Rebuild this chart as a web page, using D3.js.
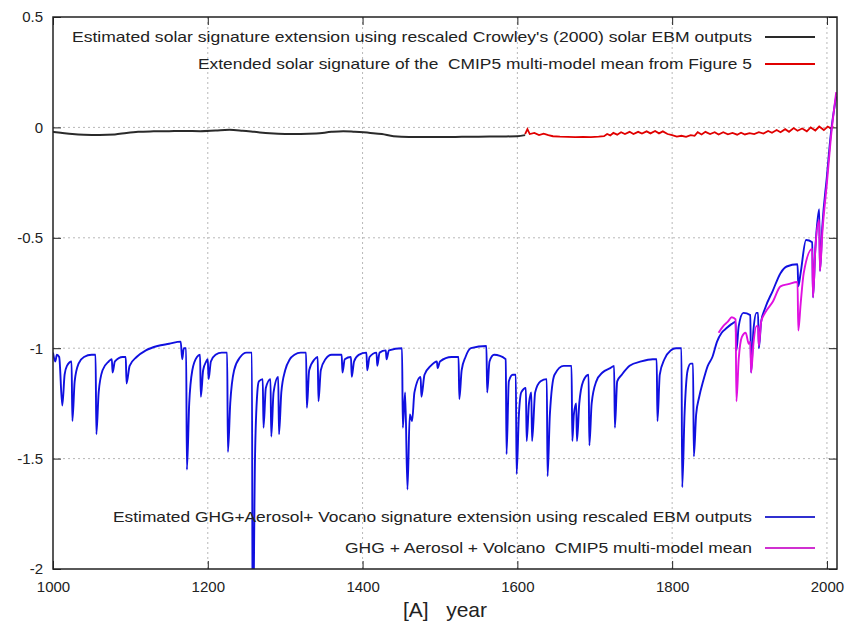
<!DOCTYPE html>
<html lang="en">
<head>
<meta charset="UTF-8">
<title>Solar and GHG+Aerosol+Volcano signatures</title>
<style>
  body { margin: 0; background: #fff; }
  text { font-family: "Liberation Sans", Arial, sans-serif; fill: #222; }
</style>
</head>
<body>
<script src="https://cdn.jsdelivr.net/npm/d3@7/dist/d3.min.js"></script>
<script>
// ---- data ----
var xTicks = [1000, 1200, 1400, 1600, 1800, 2000];
var yTicks = [0.5, 0, -0.5, -1, -1.5, -2];

var legendTop = [
  "Estimated solar signature extension using rescaled Crowley's (2000) solar EBM outputs",
  "Extended solar signature of the  CMIP5 multi-model mean from Figure 5"
];
var legendBottom = [
  "Estimated GHG+Aerosol+ Vocano signature extension using rescaled EBM outputs",
  "GHG + Aerosol + Volcano  CMIP5 multi-model mean"
];

// solar signature, Crowley EBM (black)
var solarEbm = [
  [1000,-0.020],[1010,-0.024],[1025,-0.030],[1040,-0.033],[1060,-0.034],[1080,-0.032],
  [1095,-0.025],[1110,-0.020],[1130,-0.018],[1150,-0.017],[1170,-0.016],[1190,-0.017],
  [1210,-0.014],[1228,-0.011],[1245,-0.015],[1260,-0.020],[1280,-0.027],[1300,-0.030],
  [1320,-0.030],[1340,-0.028],[1360,-0.020],[1375,-0.017],[1390,-0.020],[1410,-0.025],
  [1425,-0.030],[1440,-0.040],[1460,-0.043],[1490,-0.043],[1520,-0.043],[1550,-0.042],
  [1580,-0.041],[1600,-0.040],[1610,-0.035]
];

// solar signature, CMIP5 mean (red)
var solarCmip5 = [
  [1610,-0.030],[1613,-0.008],[1616,-0.030],[1622,-0.025],[1628,-0.035],[1634,-0.028],
  [1640,-0.035],[1646,-0.040],[1655,-0.042],[1665,-0.043],[1675,-0.044],[1685,-0.043],
  [1695,-0.044],[1705,-0.042],[1712,-0.040],[1716,-0.030],[1720,-0.036],[1724,-0.025],
  [1729,-0.033],[1734,-0.022],[1739,-0.030],[1745,-0.020],[1750,-0.030],[1756,-0.020],
  [1761,-0.028],[1767,-0.018],[1772,-0.027],[1778,-0.016],[1783,-0.027],[1788,-0.018],
  [1794,-0.030],[1800,-0.035],[1806,-0.042],[1812,-0.038],[1818,-0.043],[1824,-0.035],
  [1829,-0.038],[1833,-0.022],[1838,-0.032],[1843,-0.020],[1849,-0.030],[1855,-0.022],
  [1860,-0.032],[1866,-0.022],[1872,-0.031],[1878,-0.025],[1884,-0.033],[1889,-0.024],
  [1894,-0.032],[1900,-0.026],[1906,-0.030],[1912,-0.022],[1918,-0.028],[1924,-0.016],
  [1929,-0.024],[1935,-0.012],[1940,-0.022],[1946,-0.008],[1951,-0.020],[1957,-0.003],
  [1962,-0.015],[1968,-0.005],[1974,-0.018],[1979,0.000],[1985,-0.014],[1990,0.004],
  [1996,-0.012],[2001,0.004],[2005,-0.004],[2008,0.006]
];

// GHG+Aerosol+Volcano, rescaled EBM (blue)
var forcedEbm = [
  [1000,-1.02],[1003,-1.06],[1005,-1.03],[1008,-1.04],[1012,-1.26],[1015,-1.12],[1018,-1.08],
  [1024,-1.06],[1025,-1.33],[1028,-1.15],[1033,-1.07],[1040,-1.04],[1050,-1.03],[1055,-1.03],
  [1056,-1.39],[1059,-1.20],[1064,-1.10],[1072,-1.06],[1076,-1.05],[1077,-1.11],[1080,-1.06],
  [1090,-1.04],[1094,-1.04],[1095,-1.16],[1099,-1.08],[1108,-1.04],[1120,-1.01],[1135,-0.99],
  [1150,-0.98],[1165,-0.97],[1167,-1.05],[1169,-1.00],[1172,-1.00],[1173,-1.55],[1176,-1.25],
  [1180,-1.10],[1186,-1.04],[1190,-1.03],[1191,-1.22],[1194,-1.10],[1198,-1.06],[1200,-1.05],
  [1201,-1.14],[1204,-1.06],[1210,-1.03],[1218,-1.02],[1225,-1.02],[1226,-1.47],[1229,-1.25],
  [1234,-1.10],[1242,-1.04],[1250,-1.02],[1257,-1.02],[1258,-2.40],[1261,-1.50],[1264,-1.20],
  [1266,-1.15],[1271,-1.14],[1272,-1.36],[1275,-1.18],[1281,-1.14],[1282,-1.40],[1285,-1.20],
  [1291,-1.13],[1292,-1.39],[1295,-1.20],[1300,-1.10],[1306,-1.05],[1312,-1.03],[1320,-1.02],
  [1327,-1.02],[1328,-1.27],[1331,-1.10],[1338,-1.05],[1342,-1.04],[1343,-1.24],[1346,-1.10],
  [1352,-1.05],[1360,-1.03],[1373,-1.03],[1374,-1.11],[1377,-1.05],[1385,-1.04],[1386,-1.13],
  [1389,-1.06],[1395,-1.03],[1405,-1.02],[1406,-1.10],[1409,-1.04],[1418,-1.02],[1419,-1.08],
  [1422,-1.02],[1430,-1.01],[1431,-1.05],[1434,-1.01],[1451,-1.00],[1452,-1.36],[1455,-1.20],
  [1458,-1.64],[1461,-1.30],[1464,-1.33],[1467,-1.20],[1475,-1.13],[1476,-1.22],[1480,-1.12],
  [1488,-1.08],[1496,-1.06],[1497,-1.09],[1500,-1.06],[1515,-1.04],[1524,-1.04],[1525,-1.23],
  [1528,-1.10],[1533,-1.04],[1540,-1.00],[1560,-0.99],[1561,-1.20],[1564,-1.06],[1570,-1.03],
  [1585,-1.05],[1586,-1.48],[1589,-1.15],[1594,-1.12],[1598,-1.12],[1599,-1.57],[1602,-1.30],
  [1605,-1.20],[1611,-1.18],[1612,-1.42],[1615,-1.25],[1618,-1.20],[1619,-1.42],[1623,-1.20],
  [1630,-1.15],[1638,-1.14],[1639,-1.58],[1642,-1.30],[1648,-1.12],[1660,-1.08],[1670,-1.08],
  [1671,-1.42],[1673,-1.30],[1676,-1.25],[1677,-1.42],[1680,-1.25],[1685,-1.15],[1692,-1.12],
  [1693,-1.44],[1696,-1.25],[1702,-1.15],[1710,-1.11],[1720,-1.09],[1725,-1.08],[1726,-1.36],
  [1729,-1.15],[1735,-1.12],[1745,-1.08],[1760,-1.06],[1775,-1.05],[1780,-1.05],[1781,-1.33],
  [1784,-1.12],[1790,-1.05],[1798,-1.01],[1805,-1.00],[1812,-1.00],[1813,-1.63],[1816,-1.30],
  [1820,-1.10],[1824,-1.07],[1827,-1.07],[1828,-1.49],[1831,-1.30],[1835,-1.22],[1840,-1.15],
  [1846,-1.08],[1852,-1.04],[1858,-0.97],[1864,-0.93],[1870,-0.91],[1877,-0.89],[1882,-0.88],
  [1883,-1.01],[1886,-0.90],[1892,-0.84],[1901,-0.85],[1902,-1.11],[1905,-0.92],[1909,-0.84],
  [1911,-0.84],[1912,-1.00],[1915,-0.88],[1920,-0.82],[1930,-0.74],[1940,-0.66],[1948,-0.63],
  [1962,-0.62],[1963,-0.72],[1966,-0.66],[1973,-0.51],[1981,-0.52],[1982,-0.77],[1985,-0.55],
  [1990,-0.37],[1991,-0.65],[1994,-0.45],[2000,-0.22],[2005,-0.03],[2012,0.14]
];

// GHG+Aerosol+Volcano, CMIP5 mean (magenta)
var forcedCmip5 = [
  [1860,-0.93],[1866,-0.90],[1872,-0.88],[1877,-0.86],[1882,-0.87],[1883,-1.24],[1886,-1.05],
  [1890,-0.95],[1895,-0.93],[1899,-0.98],[1901,-0.97],[1902,-1.11],[1905,-0.98],[1909,-0.90],
  [1911,-0.90],[1912,-0.99],[1915,-0.88],[1920,-0.84],[1930,-0.79],[1940,-0.72],[1950,-0.71],
  [1962,-0.70],[1963,-0.92],[1966,-0.80],[1970,-0.66],[1981,-0.55],[1982,-0.77],[1985,-0.55],
  [1990,-0.42],[1991,-0.65],[1994,-0.48],[2000,-0.25],[2005,-0.05],[2012,0.16]
];

// ---- chart ----
var width = 850, height = 635;
var margin = {top: 17, right: 13, bottom: 66, left: 53};
var plotW = width - margin.left - margin.right;
var plotH = height - margin.top - margin.bottom;

var svg = d3.select('body').append('svg')
  .attr('width', width)
  .attr('height', height);

var x = d3.scaleLinear().domain([1000, 2013]).range([0, plotW]);
var y = d3.scaleLinear().domain([-2, 0.5]).range([plotH, 0]);

var g = svg.append('g')
  .attr('transform', 'translate(' + margin.left + ',' + margin.top + ')');

svg.append('defs').append('clipPath').attr('id', 'plotclip')
  .append('rect').attr('width', plotW).attr('height', plotH);

// grid
g.append('g').selectAll('line.gx')
  .data(xTicks.slice(1))
  .enter().append('line')
  .attr('x1', function(d){ return x(d); })
  .attr('x2', function(d){ return x(d); })
  .attr('y1', 0).attr('y2', plotH)
  .attr('stroke', '#b8b8b8').attr('stroke-dasharray', '2,3');
g.append('g').selectAll('line.gy')
  .data(yTicks.slice(1, -1))
  .enter().append('line')
  .attr('y1', function(d){ return y(d); })
  .attr('y2', function(d){ return y(d); })
  .attr('x1', 0).attr('x2', plotW)
  .attr('stroke', '#b8b8b8').attr('stroke-dasharray', '2,3');

// axes (gnuplot style: ticks inward, mirrored)
var xAxis = d3.axisBottom(x).tickValues(xTicks).tickSize(-8).tickPadding(12).tickFormat(d3.format('d'));
var yAxis = d3.axisLeft(y).tickValues(yTicks).tickSize(-8).tickPadding(10).tickFormat(function(d){ return String(d); });

var gx = g.append('g').attr('transform', 'translate(0,' + plotH + ')').call(xAxis);
var gy = g.append('g').call(yAxis);
g.append('g').call(d3.axisTop(x).tickValues(xTicks).tickSize(-8).tickFormat(''));
g.append('g').attr('transform', 'translate(' + plotW + ',0)')
  .call(d3.axisRight(y).tickValues(yTicks).tickSize(-8).tickFormat(''));

g.selectAll('.domain').remove();
g.selectAll('.tick line').attr('stroke', '#222');
gx.selectAll('text').style('font-size', '15px').attr('fill', '#222');
gy.selectAll('text').style('font-size', '15px').attr('fill', '#222');

// curves
var line = d3.line()
  .x(function(d){ return x(d[0]); })
  .y(function(d){ return y(d[1]); });
var smooth = d3.line()
  .curve(d3.curveMonotoneX)
  .x(function(d){ return x(d[0]); })
  .y(function(d){ return y(d[1]); });

var curves = g.append('g').attr('clip-path', 'url(#plotclip)');
curves.append('path').datum(solarEbm).attr('d', smooth)
  .attr('fill', 'none').attr('stroke', '#2a2a2a').attr('stroke-width', 2);
curves.append('path').datum(solarCmip5).attr('d', line)
  .attr('fill', 'none').attr('stroke', '#e00000').attr('stroke-width', 1.8);
curves.append('path').datum(forcedEbm).attr('d', smooth)
  .attr('fill', 'none').attr('stroke', '#1010e0').attr('stroke-width', 1.9)
  .attr('stroke-linejoin', 'round');
curves.append('path').datum(forcedCmip5).attr('d', smooth)
  .attr('fill', 'none').attr('stroke', '#e010e0').attr('stroke-width', 1.9)
  .attr('stroke-linejoin', 'round');

// frame
g.append('rect').attr('width', plotW).attr('height', plotH)
  .attr('fill', 'none').attr('stroke', '#222').attr('stroke-width', 1.5);

// legends
var legendColors = ['#2a2a2a', '#e00000', '#3030d0', '#d030d0'];
var legendItems = [
  {t: legendTop[0], y: 37, w: 680, c: legendColors[0]},
  {t: legendTop[1], y: 64, w: 554, c: legendColors[1]},
  {t: legendBottom[0], y: 517, w: 639, c: legendColors[2]},
  {t: legendBottom[1], y: 548, w: 407, c: legendColors[3]}
];
var lg = svg.append('g');
legendItems.forEach(function(it){
  lg.append('text')
    .attr('x', 752).attr('y', it.y).attr('dy', '0.35em')
    .attr('text-anchor', 'end')
    .attr('textLength', it.w).attr('lengthAdjust', 'spacingAndGlyphs')
    .style('font-size', '15px').attr('fill', '#333')
    .style('white-space', 'pre')
    .text(it.t);
  lg.append('line')
    .attr('x1', 765).attr('x2', 815)
    .attr('y1', it.y).attr('y2', it.y)
    .attr('stroke', it.c).attr('stroke-width', 2);
});

// x label
svg.append('text')
  .attr('x', margin.left + plotW / 2).attr('y', 610).attr('dy', '0.35em')
  .attr('text-anchor', 'middle')
  .style('font-size', '21px').style('white-space', 'pre')
  .text('[A]   year');
</script>
</body>
</html>
